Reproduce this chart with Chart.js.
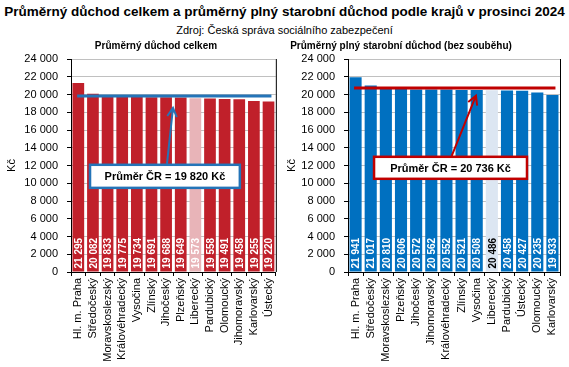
<!DOCTYPE html>
<html>
<head>
<meta charset="utf-8">
<script src="https://cdn.jsdelivr.net/npm/chart.js@4/dist/chart.umd.min.js"></script>
<style>
  body { margin: 0; background: #fff; font-family: 'Liberation Sans', Arial, sans-serif; }
  #wrap { position: relative; width: 569px; height: 367px; }
  .head { position: absolute; text-align: center; color: #000; white-space: nowrap; }
  #t1 { top: 4px; left: 0; width: 569px; font-size: 13.5px; font-weight: bold; }
  #t2 { top: 24px; left: 0; width: 569px; font-size: 11px; }
  .sub { top: 40px; width: 300px; font-size: 10px; font-weight: bold; }
  #s1 { left: 6px; }
  #s2 { left: 251px; }
  .box { position: absolute; top: 38px; height: 329px; }
  #leftBox { left: 0; width: 284px; }
  #rightBox { left: 284px; width: 285px; }
</style>
</head>
<body>
<div id="wrap">
  <div class="head" id="t1">Průměrný důchod celkem a průměrný plný starobní důchod podle krajů v prosinci 2024</div>
  <div class="head" id="t2">Zdroj: Česká správa sociálního zabezpečení</div>
  <div class="box" id="leftBox"><canvas id="leftChart"></canvas></div>
  <div class="box" id="rightBox"><canvas id="rightChart"></canvas></div>
  <div class="head sub" id="s1">Průměrný důchod celkem</div>
  <div class="head sub" id="s2">Průměrný plný starobní důchod (bez souběhu)</div>
</div>
<script>
// data
const krajeCelkem = ['Hl. m. Praha', 'Středočeský', 'Moravskoslezský', 'Královéhradecký', 'Vysočina', 'Zlínský',
    'Jihočeský', 'Plzeňský', 'Liberecký', 'Pardubický', 'Olomoucký', 'Jihomoravský', 'Karlovarský', 'Ústecký'];
const duchodCelkem = [21295, 20082, 19833, 19775, 19734, 19691, 19688, 19649, 19573, 19558, 19491, 19458, 19255, 19220];
const prumerCelkem = 19820;

const krajeStarobni = ['Hl. m. Praha', 'Středočeský', 'Moravskoslezský', 'Plzeňský', 'Jihočeský', 'Jihomoravský',
    'Královéhradecký', 'Zlínský', 'Vysočina', 'Liberecký', 'Pardubický', 'Ústecký', 'Olomoucký', 'Karlovarský'];
const duchodStarobni = [21941, 21017, 20810, 20606, 20572, 20562, 20552, 20521, 20508, 20486, 20458, 20427, 20235, 19933];
const prumerStarobni = 20736;

const yTicks = [0, 2000, 4000, 6000, 8000, 10000, 12000, 14000, 16000, 18000, 20000, 22000, 24000];
const zvyraznit = 'Liberecký';

const FONT = "'Liberation Sans', Arial, sans-serif";

function fmt(v) {
    return String(v).replace(/\B(?=(\d{3})+(?!\d))/g, ' ');
}

function makeChart(canvasId, opts) {
    let colors = opts.labels.map(l => l === zvyraznit ? opts.lightColor : opts.color);
    let textColors = opts.labels.map(l => l === zvyraznit ? opts.lightText : '#fff');

    new Chart(document.getElementById(canvasId), {
        type: 'bar',
        data: {
            labels: opts.labels,
            datasets: [{
                data: opts.values,
                backgroundColor: colors,
                barPercentage: 0.8,
                categoryPercentage: 1.0
            }]
        },
        options: {
            responsive: true,
            maintainAspectRatio: false,
            animation: false,
            layout: { padding: { left: 0, right: opts.padRight, top: 21, bottom: 0 } },
            plugins: {
                legend: { display: false },
                tooltip: { enabled: false },
                title: { display: false }
            },
            scales: {
                x: {
                    afterFit: axis => { axis.height = 95; },
                    grid: { display: true, drawOnChartArea: false, offset: true, color: '#000', tickLength: 4 },
                    border: { color: '#000' },
                    ticks: {
                        color: '#000', font: { family: FONT, size: 11 },
                        minRotation: 90, maxRotation: 90, autoSkip: false, padding: 2
                    }
                },
                y: {
                    min: 0, max: 24000,
                    afterFit: axis => { axis.width = opts.axisWidth; },
                    afterBuildTicks: axis => { axis.ticks = yTicks.map(v => ({ value: v })); },
                    grid: { color: '#c0c0c0', tickColor: '#000', tickLength: 4 },
                    border: { color: '#000' },
                    title: {
                        display: true, text: 'Kč', color: '#000', font: { family: FONT, size: 11 },
                        padding: { top: opts.kcPad, bottom: 0 }
                    },
                    ticks: {
                        color: '#000', font: { family: FONT, size: 11 }, padding: 9,
                        callback: v => fmt(v)
                    }
                }
            }
        },
        plugins: [{
            id: 'popisky',
            afterDatasetsDraw: function(chart) {
                let ctx = chart.ctx;
                let area = chart.chartArea;
                let xs = chart.scales.x, ys = chart.scales.y;
                let meta = chart.getDatasetMeta(0);

                // right frame of plot
                ctx.save();
                ctx.strokeStyle = '#000';
                ctx.lineWidth = 1;
                ctx.beginPath();
                ctx.moveTo(area.right + 0.5, area.top);
                ctx.lineTo(area.right + 0.5, area.bottom);
                ctx.stroke();
                ctx.restore();

                // values inside bars
                meta.data.forEach((bar, i) => {
                    ctx.save();
                    ctx.translate(bar.x, bar.base - 3);
                    ctx.rotate(-Math.PI / 2);
                    ctx.font = `bold 10px ${FONT}`;
                    ctx.fillStyle = textColors[i];
                    ctx.textAlign = 'left';
                    ctx.textBaseline = 'middle';
                    ctx.fillText(fmt(opts.values[i]), 0, 1);
                    ctx.restore();
                });

                // average line
                let yAvg = ys.getPixelForValue(opts.avg);
                ctx.save();
                ctx.strokeStyle = opts.lineColor;
                ctx.lineWidth = 3;
                ctx.beginPath();
                ctx.moveTo(xs.getPixelForValue(opts.lineFrom), yAvg);
                ctx.lineTo(xs.getPixelForValue(opts.lineTo), yAvg);
                ctx.stroke();

                // callout box
                let bx1 = xs.getPixelForValue(opts.boxFrom), bx2 = xs.getPixelForValue(opts.boxTo);
                let by1 = ys.getPixelForValue(opts.boxTop), by2 = ys.getPixelForValue(opts.boxBottom);
                ctx.fillStyle = '#fff';
                ctx.fillRect(bx1, by1, bx2 - bx1, by2 - by1);
                ctx.lineWidth = 2.5;
                ctx.strokeRect(bx1, by1, bx2 - bx1, by2 - by1);
                ctx.fillStyle = '#000';
                ctx.font = `bold 11px ${FONT}`;
                ctx.textAlign = 'center';
                ctx.textBaseline = 'middle';
                ctx.fillText('Průměr ČR = ' + fmt(opts.avg) + ' Kč', (bx1 + bx2) / 2, (by1 + by2) / 2 + 1);

                // arrow from box to line
                let ax = xs.getPixelForValue(opts.arrowFrom), ay = by1 - 1;
                let tx = xs.getPixelForValue(opts.arrowTo), ty = ys.getPixelForValue(opts.arrowTip);
                ctx.lineWidth = 2;
                ctx.beginPath();
                ctx.moveTo(ax, ay);
                ctx.lineTo(tx, ty);
                let ang = Math.atan2(ty - ay, tx - ax);
                ctx.moveTo(tx - 10 * Math.cos(ang - 0.5), ty - 10 * Math.sin(ang - 0.5));
                ctx.lineTo(tx, ty);
                ctx.lineTo(tx - 10 * Math.cos(ang + 0.5), ty - 10 * Math.sin(ang + 0.5));
                ctx.stroke();
                ctx.restore();
            }
        }]
    });
}

makeChart('leftChart', {
    labels: krajeCelkem, values: duchodCelkem, avg: prumerCelkem,
    color: '#C0202A', lightColor: '#E8B4B8', lightText: '#fff', lineColor: '#2474B8',
    lineFrom: -0.08, lineTo: 13.2,
    boxFrom: 0.8, boxTo: 11.04, boxTop: 12080, boxBottom: 9480,
    arrowFrom: 6.06, arrowTo: 6.47, arrowTip: 18500,
    axisWidth: 71, padRight: 8, kcPad: 5
});

makeChart('rightChart', {
    labels: krajeStarobni, values: duchodStarobni, avg: prumerStarobni,
    color: '#0070C0', lightColor: '#DCE6F2', lightText: '#000', lineColor: '#C00000',
    lineFrom: -0.1, lineTo: 13.2,
    boxFrom: 1.22, boxTo: 11.32, boxTop: 12980, boxBottom: 10500,
    arrowFrom: 6.35, arrowTo: 7.95, arrowTip: 19870,
    axisWidth: 64, padRight: 9, kcPad: 1
});
</script>
</body>
</html>
